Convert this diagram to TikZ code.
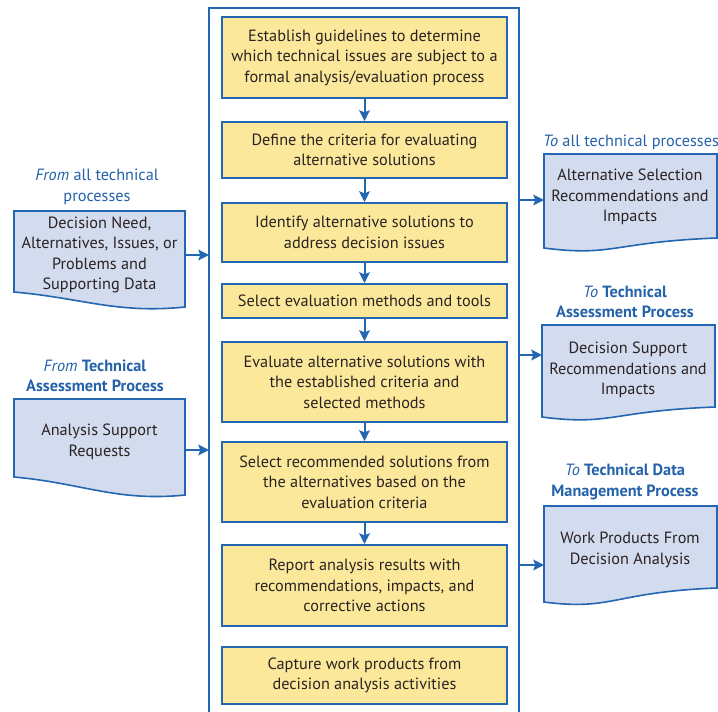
\documentclass[tikz,border=0pt]{standalone}
\usepackage{fontspec}
\setmainfont{PT Sans}
\usetikzlibrary{arrows.meta}
\definecolor{fblue}{HTML}{2366B2}
\definecolor{tblue}{HTML}{2462AA}
\definecolor{yfill}{HTML}{FCE89A}
\definecolor{dfill}{HTML}{D3DBEE}
\definecolor{txt}{HTML}{2A2324}
\begin{document}
\begin{tikzpicture}[x=0.75pt,y=-0.75pt,
  line/.style={draw=fblue,line width=1.5pt},
  arr/.style={draw=fblue,line width=1.5pt,-{Stealth[length=8pt,width=8pt,inset=1.5pt]}},
  ybox/.style={draw=fblue,line width=1.5pt,fill=yfill,minimum width=213.75pt,inner sep=0pt,align=center,text=txt,font=\fontsize{12.2}{15.4}\selectfont},
  dtext/.style={inner sep=0pt,align=center,text=txt,font=\fontsize{12.2}{15.4}\selectfont},
  dshape/.style={draw=fblue,line width=1.2pt,fill=dfill},
  lbl/.style={inner sep=0pt,align=center,text=tblue,font=\fontsize{12.2}{15.4}\selectfont}]
\useasboundingbox (0,0) rectangle (718,711);
\fill[white] (0,0) rectangle (718,711);
% frame
\draw[line] (209,712) -- (209,8) -- (519,8) -- (519,712);
% process boxes
\node[ybox,minimum height=60.75pt] (b1) at (364.5,57.5) {Establish guidelines to determine\\which technical issues are subject to a\\formal analysis/evaluation process};
\node[ybox,minimum height=42pt] (b2) at (364.5,150) {Define the criteria for evaluating\\alternative solutions};
\node[ybox,minimum height=44.25pt] (b3) at (364.5,232.5) {Identify alternative solutions to\\address decision issues};
\node[ybox,minimum height=25.5pt] (b4) at (364.5,301) {Select evaluation methods and tools};
\node[ybox,minimum height=60pt] (b5) at (364.5,382) {Evaluate alternative solutions with\\the established criteria and\\selected methods};
\node[ybox,minimum height=60pt] (b6) at (364.5,482) {Select recommended solutions from\\the alternatives based on the\\evaluation criteria};
\node[ybox,minimum height=60.75pt] (b7) at (364.5,585.5) {Report analysis results with\\recommendations, impacts, and\\corrective actions};
\node[ybox,minimum height=42.75pt] (b8) at (364.5,675.5) {Capture work products from\\decision analysis activities};
\draw[arr] (b1) -- (b2);
\draw[arr] (b2) -- (b3);
\draw[arr] (b3) -- (b4);
\draw[arr] (b4) -- (b5);
\draw[arr] (b5) -- (b6);
\draw[arr] (b6) -- (b7);
% left documents
\draw[dshape] (14,211) -- (185,211) -- (185,307) .. controls (117,314) and (82,298) .. (14,292) -- cycle;
\node[dtext] (d1) at (99.5,255) {Decision Need,\\Alternatives, Issues, or\\Problems and\\Supporting Data};
\draw[dshape] (14,399) -- (185,399) -- (185,495) .. controls (117,502) and (82,483) .. (14,477) -- cycle;
\node[dtext] (d2) at (99.5,442) {Analysis Support\\Requests};
\node[lbl] (l1) at (97,187) {\textit{From} all technical\\processes};
\node[lbl] (l2) at (95,376) {\textit{From} \textbf{Technical}\\\textbf{Assessment Process}};
\coordinate (fl1) at (209,255);
\coordinate (fl2) at (209,450);
\draw[arr] (185,255) -- (fl1);
\draw[arr] (185,450) -- (fl2);
% right documents
\draw[dshape] (544,154) -- (717,154) -- (717,238) .. controls (613,242) and (613,257) .. (544,248) -- cycle;
\node[dtext] (r1) at (630,197) {Alternative Selection\\Recommendations and\\Impacts};
\draw[dshape] (542,325) -- (715,325) -- (715,407) .. controls (611,411) and (611,426) .. (542,417) -- cycle;
\node[dtext] (r2) at (628,370) {Decision Support\\Recommendations and\\Impacts};
\draw[dshape] (544,506) -- (717,506) -- (717,588) .. controls (613,592) and (613,611) .. (544,602) -- cycle;
\node[dtext] (r3) at (630,550) {Work Products From\\Decision Analysis};
\node[lbl] (l3) at (631,142) {\textit{To} all technical processes};
\node[lbl] (l4) at (625,302) {\textit{To} \textbf{Technical}\\\textbf{Assessment Process}};
\node[lbl] (l5) at (625,482) {\textit{To} \textbf{Technical Data}\\\textbf{Management Process}};
\coordinate (fr1) at (519,200);
\coordinate (fr2) at (519,355);
\coordinate (fr3) at (519,565);
\draw[arr] (fr1) -- (544,200);
\draw[arr] (fr2) -- (542,355);
\draw[arr] (fr3) -- (544,565);
\end{tikzpicture}
\end{document}
